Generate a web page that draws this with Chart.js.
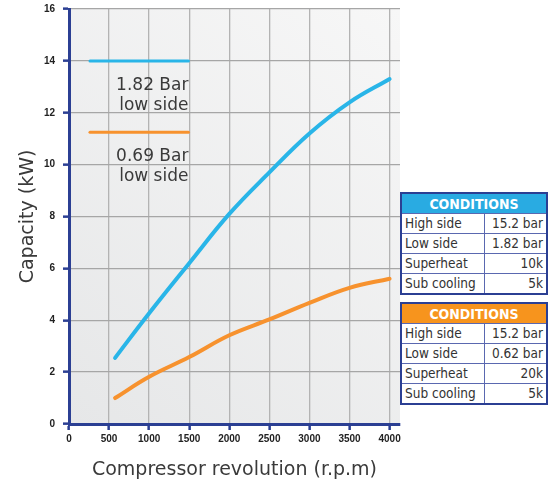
<!DOCTYPE html>
<html>
<head>
<meta charset="utf-8">
<script src="https://cdn.jsdelivr.net/npm/chart.js@4.4.1/dist/chart.umd.min.js"></script>
<style>
  body { margin: 0; background: #fff; }
  #wrap { position: relative; width: 550px; height: 483px; }
  canvas { position: absolute; left: 0; top: 0; }
  .cond { position: absolute; left: 400px; width: 148px; border-collapse: collapse;
          border: 2px solid #2b3f93; font-family: "DejaVu Sans Condensed", "DejaVu Sans", sans-serif;
          font-stretch: condensed; font-size: 13.5px; color: #333; background: #fff; }
  .cond td { border: 1px solid #5a68b0; height: 19px; padding: 0 3px; line-height: 19px; }
  .cond td.v { text-align: right; }
  .cond th { color: #fff; font-weight: bold; font-size: 14px; height: 19px; padding: 0; }
  #blueTable { top: 192px; }
  #blueTable th { background: #29abe2; }
  #orangeTable { top: 302px; }
  #orangeTable th { background: #f7941d; }
</style>
</head>
<body>
<div id="wrap">
  <canvas id="chart" width="550" height="483"></canvas>
  <table class="cond" id="blueTable"></table>
  <table class="cond" id="orangeTable"></table>
</div>
<script>
const rpm = [575, 1000, 1500, 2000, 2500, 3000, 3500, 4000];
const capacityHigh = [2.55, 4.27, 6.2, 8.1, 9.7, 11.2, 12.4, 13.3];
const capacityLow = [1.0, 1.82, 2.58, 3.42, 4.03, 4.67, 5.25, 5.6];
const yTicks = [0, 2, 4, 6, 8, 10, 12, 14, 16];
const xTicks = [0, 500, 1000, 1500, 2000, 2500, 3000, 3500, 4000];

const keyX = [262, 1490];
const keyHighY = 14;
const keyLowY = 11.25;
const keyHighText = ['1.82 Bar', 'low side'];
const keyLowText = ['0.69 Bar', 'low side'];

const condLabels = ['High side', 'Low side', 'Superheat', 'Sub cooling'];
const condHigh = ['15.2 bar', '1.82 bar', '10k', '5k'];
const condLow = ['15.2 bar', '0.62 bar', '20k', '5k'];

const blue = '#29b5e8';
const orange = '#f7922e';
const axisBlue = '#2b3f93';
const textFont = '"DejaVu Sans", sans-serif';

function fillTable(id, values) {
  let html = '<tr><th colspan="2">CONDITIONS</th></tr>';
  condLabels.forEach((l, i) => {
    html += `<tr><td>${l}</td><td class="v">${values[i]}</td></tr>`;
  });
  document.getElementById(id).innerHTML = html;
}
fillTable('blueTable', condHigh);
fillTable('orangeTable', condLow);

const bgPlugin = {
  id: 'bg',
  beforeDraw(chart) {
    const { ctx, chartArea: a } = chart;
    const g = ctx.createLinearGradient(a.left, a.bottom, a.right, a.top);
    g.addColorStop(0, '#e6e7e8');
    g.addColorStop(1, '#f7f7f7');
    ctx.save();
    ctx.fillStyle = g;
    ctx.fillRect(a.left, a.top, a.right - a.left, a.bottom - a.top);
    ctx.restore();
  }
};

const keyTextPlugin = {
  id: 'keyText',
  afterDatasetsDraw(chart) {
    const { ctx, scales: { x, y } } = chart;
    ctx.save();
    ctx.font = '17px ' + textFont;
    ctx.fillStyle = '#3a3a3a';
    ctx.textAlign = 'right';
    ctx.textBaseline = 'alphabetic';
    const xr = x.getPixelForValue(keyX[1]);
    [[keyHighY, keyHighText], [keyLowY, keyLowText]].forEach(([yv, lines]) => {
      const yp = y.getPixelForValue(yv);
      ctx.fillText(lines[0], xr, yp + 29);
      ctx.fillText(lines[1], xr, yp + 49);
    });
    ctx.restore();
  }
};

new Chart(document.getElementById('chart'), {
  type: 'line',
  data: {
    datasets: [
      { data: rpm.map((v, i) => ({ x: v, y: capacityHigh[i] })), borderColor: blue, borderWidth: 4,
        tension: 0.4, pointRadius: 0, pointHoverRadius: 0, borderCapStyle: 'round' },
      { data: rpm.map((v, i) => ({ x: v, y: capacityLow[i] })), borderColor: orange, borderWidth: 4,
        tension: 0.4, pointRadius: 0, pointHoverRadius: 0, borderCapStyle: 'round' },
      { data: keyX.map(v => ({ x: v, y: keyHighY })), borderColor: blue, borderWidth: 3,
        pointRadius: 0, pointHoverRadius: 0, borderCapStyle: 'round' },
      { data: keyX.map(v => ({ x: v, y: keyLowY })), borderColor: orange, borderWidth: 3,
        pointRadius: 0, pointHoverRadius: 0, borderCapStyle: 'round' }
    ]
  },
  options: {
    responsive: false,
    animation: false,
    layout: { autoPadding: false, padding: { top: 3, right: 150, left: 0, bottom: 0 } },
    plugins: { legend: { display: false }, tooltip: { enabled: false } },
    scales: {
      x: {
        type: 'linear', min: 0, max: 4130,
        afterFit: s => { s.height = 59; },
        afterBuildTicks: s => { s.ticks = xTicks.map(v => ({ value: v })); },
        ticks: { color: '#222', font: { family: 'Arial', weight: 'bold', size: 10 }, padding: 3, maxRotation: 0,
                 callback: v => String(v) },
        grid: { color: '#b3b3b3', lineWidth: 1.3, tickColor: axisBlue, tickLength: 6, tickWidth: 2.5 },
        border: { color: axisBlue, width: 3 },
        title: { display: true, text: 'Compressor revolution (r.p.m)', color: '#3a3a3a',
                 font: { family: textFont, size: 19 }, padding: { top: 0, bottom: 2 } }
      },
      y: {
        min: 0, max: 16,
        afterFit: s => { s.width = 69; s.paddingTop = 9; },
        afterBuildTicks: s => { s.ticks = yTicks.map(v => ({ value: v })); },
        ticks: { color: '#222', font: { family: 'Arial', weight: 'bold', size: 10 }, padding: 8 },
        grid: { color: '#a6a6a6', lineWidth: 1.3, tickColor: axisBlue, tickLength: 6, tickWidth: 2.5 },
        border: { color: axisBlue, width: 3 },
        title: { display: true, text: 'Capacity (kW)', color: '#3a3a3a',
                 font: { family: textFont, size: 19 }, padding: { top: 17, bottom: 0 } }
      }
    }
  },
  plugins: [bgPlugin, keyTextPlugin]
});
</script>
</body>
</html>
